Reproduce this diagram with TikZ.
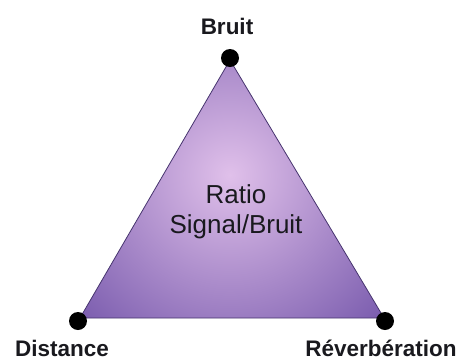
\documentclass[tikz,border=0pt]{standalone}
\usepackage{fontspec}
\setmainfont{Liberation Sans}
\definecolor{triout}{RGB}{112,82,168}
\definecolor{triin}{RGB}{224,192,234}
\definecolor{triedge}{RGB}{70,52,110}
\definecolor{txt}{RGB}{25,25,30}
\tikzset{
  vdot/.style={circle,fill=black,inner sep=0pt,minimum size=18pt},
  vlabel/.style={font=\fontsize{22.5}{24}\selectfont\bfseries,text=txt,inner sep=0pt,anchor=base},
  ctext/.style={font=\fontsize{26}{30}\selectfont,text=txt,align=center,inner sep=0pt}
}
\begin{document}
\begin{tikzpicture}[x=1pt,y=-1pt]
\useasboundingbox (0,0) rectangle (461,360);
\coordinate (T) at (230,60);
\coordinate (L) at (80,318);
\coordinate (R) at (384,318);
\begin{scope}
\clip (T) -- (L) -- (R) -- cycle;
\shade[inner color=triin,outer color=triout] (230,175) circle (230);
\end{scope}
\draw[triedge,line width=0.8pt,line join=round] (T) -- (L) -- (R) -- cycle;
\node[vdot] (dT) at (230,58) {};
\node[vdot] (dL) at (78,321) {};
\node[vdot] (dR) at (385,321) {};
\node[vlabel] (lT) at (227,34) {Bruit};
\node[vlabel] (lL) at (62,356) {Distance};
\node[vlabel] (lR) at (381,356) {Réverbération};
\node[ctext] (c) at (236,212) {Ratio\\Signal/Bruit};
\end{tikzpicture}
\end{document}
